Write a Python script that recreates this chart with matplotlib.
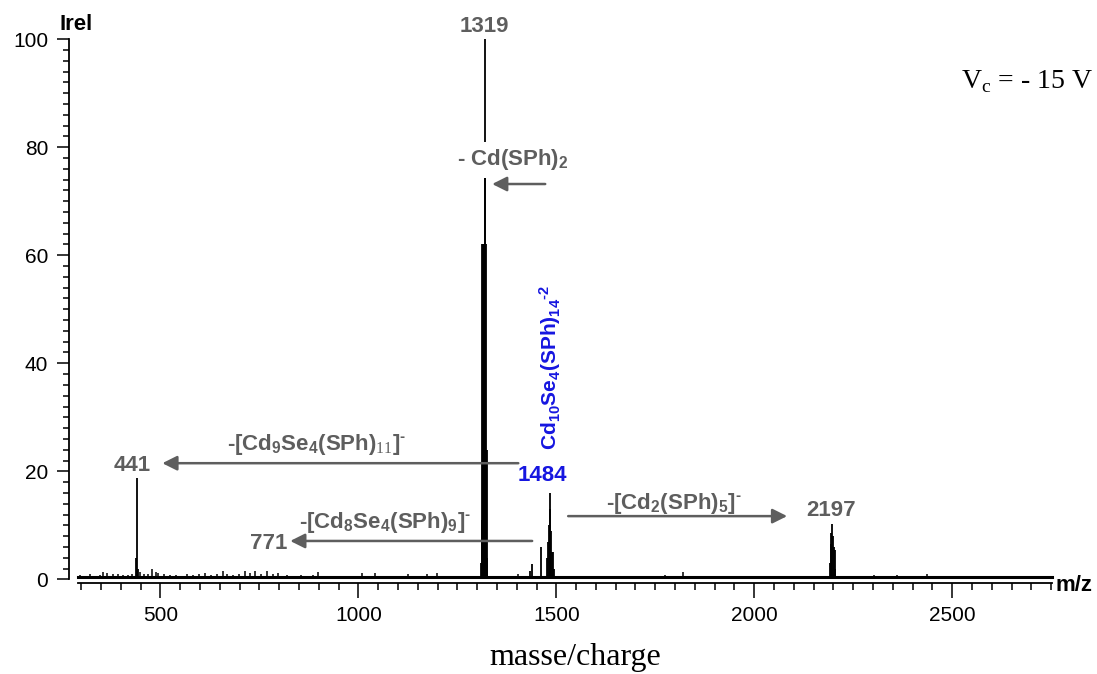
import matplotlib
matplotlib.use('Agg')
from matplotlib import pyplot as plt
from matplotlib.ticker import MultipleLocator

plt.rcParams['font.family'] = 'Liberation Sans'
plt.rcParams['mathtext.fontset'] = 'custom'
plt.rcParams['mathtext.rm'] = 'Liberation Sans:bold'
plt.rcParams['mathtext.it'] = 'Liberation Sans:bold'
plt.rcParams['mathtext.bf'] = 'Liberation Sans:bold'
plt.rcParams['mathtext.sf'] = 'Liberation Serif'
plt.rcParams['mathtext.default'] = 'rm'

GREY = '#5e5e5e'
BLUE = '#1616e0'

# main peaks / isotope clusters (m/z, Irel %)
peak_mz = [439, 441, 443,
           1311, 1312, 1313, 1314, 1315, 1316, 1317, 1318, 1319, 1320, 1321, 1322, 1323, 1324, 1325,
           1433, 1439, 1462,
           1477, 1479, 1481, 1483, 1485, 1487, 1489, 1491, 1493,
           2192, 2193, 2195, 2197, 2199, 2201, 2203, 2205]
peak_int = [4.0, 18.7, 2.0,
            3.0, 11.0, 62.0, 62.0, 62.0, 62.0, 62.0, 62.0, 100.0, 75.0, 62.0, 62.0, 24.0, 24.0, 4.0,
            1.6, 2.8, 6.0,
            4.0, 7.0, 10.0, 16.0, 13.0, 9.0, 5.0, 5.0, 2.0,
            3.0, 6.5, 8.5, 10.2, 8.0, 6.0, 5.5, 2.0]

# small peaks of the noise floor
noise_mz = [298, 310, 323, 335, 347, 356, 366, 381, 394, 405, 418, 428, 448, 458, 470, 480, 490, 495,
            510, 525, 540, 555, 568, 583, 598, 614, 628, 642, 659, 669, 683, 698, 715, 727, 740, 755,
            770, 784, 798, 820, 838, 854, 870, 885, 899, 915, 932, 948, 965, 985, 1010, 1025, 1043,
            1060, 1080, 1100, 1126, 1150, 1174, 1199, 1225, 1250, 1275, 1300, 1340, 1360, 1385, 1404,
            1420, 1510, 1540, 1580, 1620, 1660, 1700, 1740, 1775, 1821, 1860, 1900, 1950, 2000, 2050,
            2100, 2150, 2250, 2303, 2361, 2400, 2437, 2495, 2550, 2600, 2650, 2700, 2740]
noise_int = [0.8, 0.7, 0.9, 0.7, 0.8, 1.3, 1.1, 0.9, 1.0, 0.8, 0.8, 0.9, 1.4, 1.0, 0.9, 1.9, 1.3, 1.1,
             0.9, 0.8, 0.8, 0.7, 0.9, 0.8, 0.9, 1.2, 0.8, 0.9, 1.6, 1.0, 0.8, 1.0, 1.5, 1.1, 1.6, 1.0,
             1.6, 0.9, 1.2, 0.8, 0.7, 0.8, 0.7, 0.8, 1.3, 0.7, 0.7, 0.7, 0.7, 0.7, 1.1, 0.7, 1.1,
             0.7, 0.6, 0.7, 0.9, 0.6, 1.0, 1.1, 0.6, 0.6, 0.6, 0.7, 0.7, 0.6, 0.6, 1.0,
             0.7, 0.5, 0.5, 0.5, 0.5, 0.5, 0.5, 0.5, 0.8, 1.3, 0.5, 0.5, 0.5, 0.5, 0.5,
             0.6, 0.5, 0.5, 0.8, 0.8, 0.5, 1.0, 0.7, 0.5, 0.5, 0.5, 0.5, 0.5]
baseline = 0.35

x_ticks = [500, 1000, 1500, 2000, 2500]
y_ticks = [0, 20, 40, 60, 80, 100]

fig = plt.figure(figsize=(10.97, 6.74), dpi=100)
ax = fig.add_axes([0.0711, 0.1405, 0.8879, 0.8012])

ax.vlines(noise_mz, 0, noise_int, color='k', lw=1.1)
ax.vlines(peak_mz, 0, peak_int, color='k', lw=1.3)
ax.axhline(baseline, color='k', lw=2.2, clip_on=False)

ax.set_xlim(292, 2752)
ax.set_ylim(0, 100)

for s in ['top', 'right']:
    ax.spines[s].set_visible(False)
ax.spines['left'].set_position(('outward', 6.5))
ax.spines['left'].set_bounds(0, 100)
ax.spines['bottom'].set_position(('outward', 3))
ax.spines['left'].set_linewidth(1.3)
ax.spines['bottom'].set_linewidth(1.3)

ax.set_xticks(x_ticks)
ax.set_yticks(y_ticks)
ax.xaxis.set_minor_locator(MultipleLocator(50))
ax.yaxis.set_minor_locator(MultipleLocator(2))
ax.tick_params(axis='x', which='major', length=11, width=1.1, labelsize=15, pad=5)
ax.tick_params(axis='x', which='minor', length=5, width=1.1)
ax.tick_params(axis='y', which='major', length=9, width=1.1, labelsize=15, pad=6)
ax.tick_params(axis='y', which='minor', length=4.5, width=1.1)

# peak labels
lab = dict(color=GREY, fontsize=16, fontweight='bold', va='center')
ax.text(1318, 102.3, '1319', ha='center', clip_on=False, **lab)
ax.text(1391, 77.7, '- Cd(SPh)$_2$', ha='center', zorder=3,
        bbox=dict(fc='white', ec='none', pad=4), **lab)
ax.text(475, 21.0, '441', ha='right', **lab)
ax.text(894, 25.0, r'-[Cd$_9$Se$_4$(SPh)$_{\mathsf{11}}$]$^{\text{-}}$', ha='center', **lab)
ax.text(821, 6.7, '771', ha='right', **lab)
ax.text(1068, 10.6, r'-[Cd$_8$Se$_4$(SPh)$_9$]$^{\text{-}}$', ha='center', **lab)
ax.text(1798, 14.1, r'-[Cd$_2$(SPh)$_5$]$^{\text{-}}$', ha='center', **lab)
ax.text(2194, 12.7, '2197', ha='center', **lab)
ax.text(1465, 19.3, '1484', ha='center', va='center', color=BLUE, fontsize=16, fontweight='bold')
ax.text(1485, 24.0, r'Cd$_{10}$Se$_4$(SPh)$_{14}$$^{\text{-}2}$', rotation=90, ha='center', va='bottom',
        color=BLUE, fontsize=15, fontweight='bold')

# fragmentation arrows
arr = dict(arrowstyle='-|>', color=GREY, lw=1.8, mutation_scale=22, shrinkA=0, shrinkB=0)
ax.annotate('', xy=(1338, 73.2), xytext=(1472, 73.2), arrowprops=arr, zorder=4)
ax.annotate('', xy=(505, 21.5), xytext=(1404, 21.5), arrowprops=arr, zorder=4)
ax.annotate('', xy=(828, 7.1), xytext=(1439, 7.1), arrowprops=arr, zorder=4)
ax.annotate('', xy=(2083, 11.7), xytext=(1530, 11.7), arrowprops=arr, zorder=4)

fig.text(0.069, 0.964, 'Irel', ha='center', va='center', fontsize=16, fontweight='bold')
fig.text(0.962, 0.132, 'm/z', ha='left', va='center', fontsize=16, fontweight='bold')
fig.text(0.996, 0.878, r'V$_{\mathsf{c}}$ = - 15 V', ha='right', va='center',
         family='Liberation Serif', fontsize=20)
fig.text(0.524, 0.024, 'masse/charge', ha='center', va='center',
         family='Liberation Serif', fontsize=23)

fig.savefig('out.png', dpi=100)
